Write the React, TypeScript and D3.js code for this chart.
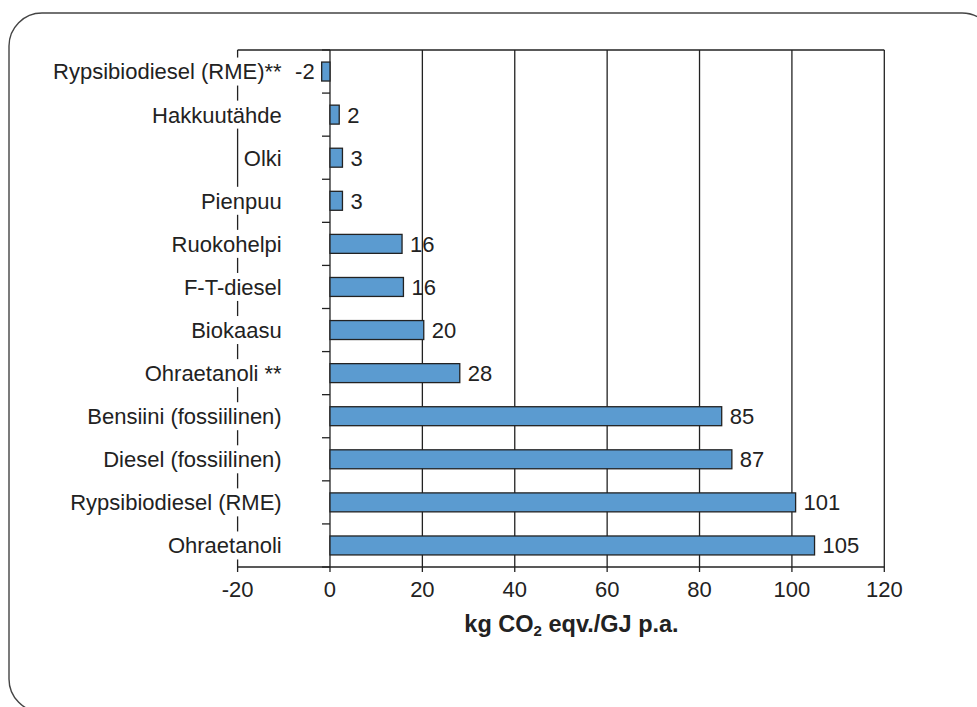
import React, { useEffect, useRef } from 'react';
import * as d3 from 'd3';

const categories = [
  'Rypsibiodiesel (RME)**',
  'Hakkuutähde',
  'Olki',
  'Pienpuu',
  'Ruokohelpi',
  'F-T-diesel',
  'Biokaasu',
  'Ohraetanoli **',
  'Bensiini (fossiilinen)',
  'Diesel (fossiilinen)',
  'Rypsibiodiesel (RME)',
  'Ohraetanoli',
];
const values = [-1.8, 2.0, 2.7, 2.7, 15.6, 15.9, 20.3, 28.1, 84.8, 87.0, 100.8, 104.9];
const xTicks = [-20, 0, 20, 40, 60, 80, 100, 120];

const App: React.FC = () => {
  const svgRef = useRef<SVGSVGElement | null>(null);

  useEffect(() => {
    const svg = d3.select(svgRef.current);
    svg.selectAll('*').remove();
    const width = 977;
    const height = 707;
    const margin = { top: 50, right: 92.7, bottom: 140, left: 237.6 };
    const ink = '#222';
    const font = '"Liberation Sans", Arial, sans-serif';

    svg.attr('width', width).attr('height', height);

    // Rounded frame.
    svg.append('rect')
      .attr('x', 9).attr('y', 13)
      .attr('width', 986).attr('height', 699)
      .attr('rx', 33).attr('ry', 33)
      .attr('fill', 'none')
      .attr('stroke', '#444')
      .attr('stroke-width', 1.4);

    const x = d3.scaleLinear()
      .domain([-20, 120])
      .range([margin.left, width - margin.right]);

    const y = d3.scaleBand()
      .domain(categories)
      .range([margin.top, height - margin.bottom])
      .paddingInner(0.56)
      .paddingOuter(0.28);

    const step = y.step();
    const top = margin.top;
    const bottom = height - margin.bottom;

    // Grid lines at every x tick.
    svg.append('g')
      .selectAll('line')
      .data(xTicks)
      .enter()
      .append('line')
      .attr('x1', d => x(d)).attr('x2', d => x(d))
      .attr('y1', top).attr('y2', bottom + 5)
      .attr('stroke', ink)
      .attr('stroke-width', 1.3);

    // Top and bottom frame lines.
    [top, bottom].forEach(yy => {
      svg.append('line')
        .attr('x1', x(-20)).attr('x2', x(120))
        .attr('y1', yy).attr('y2', yy)
        .attr('stroke', ink)
        .attr('stroke-width', 1.3);
    });

    // Category ticks on the zero line.
    svg.append('g')
      .selectAll('line')
      .data(d3.range(categories.length + 1))
      .enter()
      .append('line')
      .attr('x1', x(0) - 8).attr('x2', x(0))
      .attr('y1', i => top + i * step).attr('y2', i => top + i * step)
      .attr('stroke', ink)
      .attr('stroke-width', 1.3);

    // Bars.
    svg.append('g')
      .selectAll('rect')
      .data(values)
      .enter()
      .append('rect')
      .attr('x', d => x(Math.min(0, d)))
      .attr('y', (d, i) => y(categories[i]) as number)
      .attr('width', d => Math.abs(x(d) - x(0)))
      .attr('height', y.bandwidth())
      .attr('fill', '#5b9bd0')
      .attr('stroke', ink)
      .attr('stroke-width', 1.3);

    // Value labels.
    svg.append('g')
      .selectAll('text')
      .data(values)
      .enter()
      .append('text')
      .attr('x', d => d < 0 ? x(d) - 7 : x(d) + 8)
      .attr('y', (d, i) => (y(categories[i]) as number) + y.bandwidth() / 2)
      .attr('dy', '0.36em')
      .attr('text-anchor', d => d < 0 ? 'end' : 'start')
      .attr('font-family', font)
      .attr('font-size', 22)
      .attr('fill', ink)
      .text(d => String(Math.round(d)));

    // Category labels with white backing, covering the left axis.
    const labels = svg.append('g');
    categories.forEach(c => {
      const cy = (y(c) as number) + y.bandwidth() / 2;
      const g = labels.append('g');
      const bg = g.append('rect').attr('fill', '#fff');
      const t = g.append('text')
        .attr('x', 281.7)
        .attr('y', cy)
        .attr('dy', '0.36em')
        .attr('text-anchor', 'end')
        .attr('font-family', font)
        .attr('font-size', 22)
        .attr('fill', ink)
        .text(c);
      const bb = (t.node() as SVGTextElement).getBBox();
      bg.attr('x', bb.x - 3).attr('y', cy - 14)
        .attr('width', bb.width + 6).attr('height', 28);
    });

    // X tick labels.
    svg.append('g')
      .selectAll('text')
      .data(xTicks)
      .enter()
      .append('text')
      .attr('x', d => x(d))
      .attr('y', 597)
      .attr('text-anchor', 'middle')
      .attr('font-family', font)
      .attr('font-size', 22)
      .attr('fill', ink)
      .text(d => String(d));

    // X axis title.
    const title = svg.append('text')
      .attr('x', 571.5)
      .attr('y', 632)
      .attr('text-anchor', 'middle')
      .attr('font-family', font)
      .attr('font-size', 23.5)
      .attr('font-weight', 'bold')
      .attr('fill', ink);
    title.append('tspan').text('kg CO');
    title.append('tspan').attr('font-size', 15).attr('dy', 4).text('2');
    title.append('tspan').attr('dy', -4).text(' eqv./GJ p.a.');
  }, []);

  return (
    <svg ref={svgRef} style={{ position: 'absolute', left: 0, top: 0 }}></svg>
  );
};

export default App;
